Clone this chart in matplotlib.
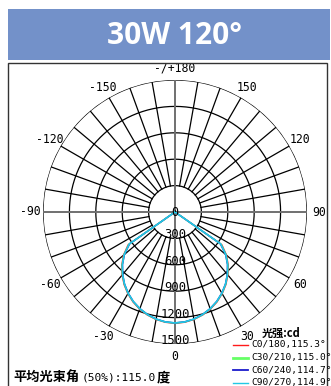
import numpy as np
import matplotlib
matplotlib.use('Agg')
import matplotlib.pyplot as plt
from matplotlib.patches import Rectangle

title = '30W 120°'
angles = [0, 5, 10, 15, 20, 25, 30, 35, 40, 45, 50, 55, 60]
c0 = [1265, 1258, 1240, 1212, 1175, 1128, 1072, 1008, 935, 855, 765, 650, 0]
c30 = [1262, 1255, 1237, 1209, 1171, 1124, 1068, 1003, 930, 849, 758, 640, 0]
c60 = [1260, 1253, 1235, 1206, 1168, 1121, 1064, 999, 925, 843, 750, 628, 0]
c90 = [1261, 1254, 1236, 1207, 1169, 1122, 1066, 1001, 927, 846, 754, 634, 0]
series = [('C0/180,115.3°', c0, '#ff1a1a', 1.0),
          ('C30/210,115.0°', c30, '#66ff66', 1.0),
          ('C60/240,114.7°', c60, '#1a1acc', 1.0),
          ('C90/270,114.9°', c90, '#22c8e4', 1.2)]
rings = [300, 600, 900, 1200, 1500]
angle_ticks = [0, 30, 60, 90, 120, 150, 180, -150, -120, -90, -60, -30]
angle_labels = ['0', '30', '60', '90', '120', '150', '-/+180', '-150', '-120', '-90', '-60', '-30']
beam_text = ('平均光束角', '(50%):115.0', '度')

W, H = 331, 386
fig = plt.figure(figsize=(W / 100, H / 100), dpi=100)
cjk = ['Noto Sans CJK SC', 'DejaVu Sans']

# banner and frame
fig.patches.append(Rectangle((8 / W, 1 - 60 / H), 322 / W, 51 / H, transform=fig.transFigure,
                             facecolor='#7391c9', edgecolor='none'))
fig.text(175 / W, 1 - 36 / H, title, color='white', fontsize=21.5, fontweight='bold',
         family=['Open Sans'], ha='center', va='center')
fig.patches.append(Rectangle((8 / W, -0.05), 319 / W, (H - 63) / H + 0.05, transform=fig.transFigure,
                             facecolor='none', edgecolor='#333333', lw=1.0))

cx, cy, R = 175, 212, 132
ax = fig.add_axes([(cx - R) / W, (H - cy - R) / H, 2 * R / W, 2 * R / H], projection='polar')
ax.set_theta_zero_location('S')
ax.set_theta_direction(1)
ax.set_ylim(0, 1500)
ax.axis('off')

th = np.linspace(0, 2 * np.pi, 361)
for r in rings:
    ax.plot(th, np.full_like(th, r), color='black', lw=0.9, zorder=1)
for a in range(0, 360, 10):
    if a % 90 == 0:
        continue
    t = np.deg2rad(a)
    ax.plot([t, t], [300, 1500], color='black', lw=0.9, zorder=1)
for a in (0, 90):
    t = np.deg2rad(a)
    ax.plot([t, t + np.pi], [1500, 1500], color='#707070', lw=1.4, zorder=1)

for lab, vals, col, lw in series:
    a = np.deg2rad(np.r_[-np.array(angles[::-1]), angles[1:]])
    v = np.r_[vals[::-1], vals[1:]]
    ax.plot(a, v, color=col, lw=lw, zorder=3)

for t, lab in zip(angle_ticks, angle_labels):
    ax.text(np.deg2rad(t), 1640, lab, ha='center', va='center', fontsize=8.3,
            family='DejaVu Sans Mono', zorder=4)
ax.text(0, 0, '0', ha='center', va='center', fontsize=8.5, family='DejaVu Sans Mono', zorder=4)
for r in rings:
    ax.text(0, r - 40, str(r), ha='center', va='center', fontsize=8.8,
            family='DejaVu Sans Mono', zorder=4)

# legend
fig.text(262 / W, 1 - 333 / H, '光强:cd', fontsize=8, fontweight='bold', family=cjk,
         ha='left', va='center')
for i, (lab, vals, col, lw) in enumerate(series):
    y = 1 - (345 + i * 12.5) / H
    fig.add_artist(plt.Line2D([233 / W, 248 / W], [y, y], color=col, lw=[1, 2, 1.3, 1][i],
                              transform=fig.transFigure))
    fig.text(251 / W, y, lab, fontsize=6.8, family='DejaVu Sans Mono', ha='left', va='center')

fig.text(13 / W, 1 - 377 / H, beam_text[0], fontsize=9.5, fontweight='bold', family=cjk,
         ha='left', va='center')
fig.text(82 / W, 1 - 377 / H, beam_text[1], fontsize=8, family='DejaVu Sans Mono',
         ha='left', va='center')
fig.text(157 / W, 1 - 377 / H, beam_text[2], fontsize=9.5, fontweight='bold', family=cjk,
         ha='left', va='center')

fig.savefig('out.png', dpi=100)
